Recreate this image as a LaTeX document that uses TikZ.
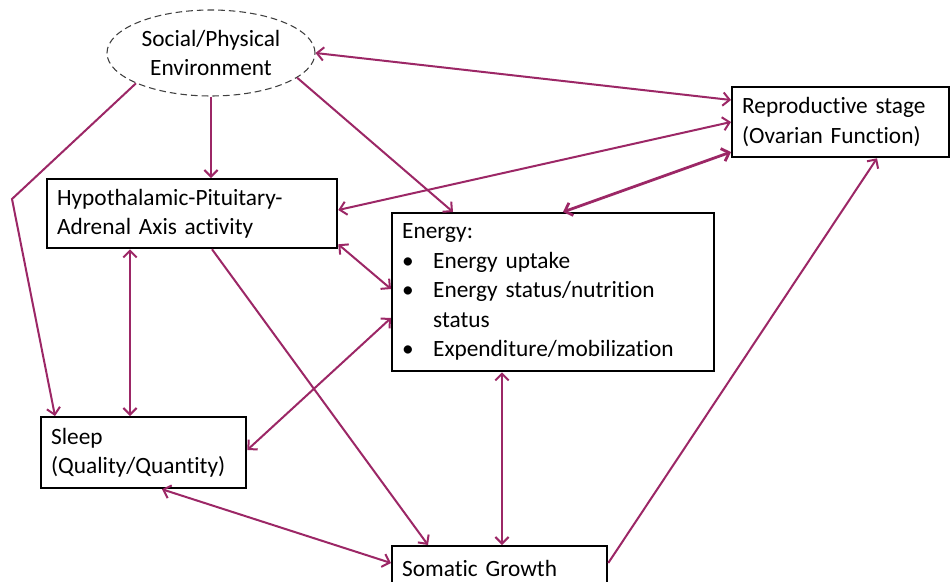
\documentclass[tikz,border=0pt]{standalone}
\usepackage{fontspec}
\setmainfont[Ligatures={NoCommon,NoRare}]{Carlito}
\usetikzlibrary{arrows.meta,calc,shapes.geometric}
\definecolor{arrowc}{HTML}{9C2766}
\newcommand{\bull}{\makebox[23.25pt][l]{\textbullet}}
\begin{document}
\begin{tikzpicture}[x=0.75pt,y=-0.75pt,
  every node/.style={font=\fontsize{17.5}{22.1}\selectfont},
  boxnode/.style={draw=black,line width=1.7pt,rectangle,anchor=north west,inner xsep=7.5pt,inner ysep=0pt,align=left},
  conn/.style={draw=arrowc,line width=1.5pt,arrows={Straight Barb[length=5pt,width=10pt]-Straight Barb[length=5pt,width=10pt]}},
  oneway/.style={draw=arrowc,line width=1.5pt,-{Straight Barb[length=5pt,width=10pt]}}]
\clip (0,0) rectangle (950,582);
\fill[white] (0,0) rectangle (950,582);
\node[ellipse,draw=black!75,dashed,dash pattern=on 5pt off 3pt,line width=0.8pt,inner sep=0pt,minimum width=156pt,minimum height=64.5pt,align=center] (env) at (211,53) {\raisebox{-3pt}{Social/Physical}\\\raisebox{-3pt}{Environment}};
\node[boxnode,text width=147.75pt,minimum height=52.5pt] (repro) at (731,86) {Reproductive stage\\(Ovarian Function)};
\node[boxnode,text width=202.5pt,minimum height=51.75pt] (hpa) at (46,178) {Hypothalamic-Pituitary-\\Adrenal Axis activity};
\node[boxnode,text width=226.5pt,minimum height=118.5pt] (energy) at (391,212) {Energy:\\\bull Energy uptake\\\bull Energy status/nutrition\\\hspace*{23.25pt}status\\\bull Expenditure/mobilization};
\node[boxnode,text width=138.75pt,minimum height=53.25pt] (sleep) at (40,416) {Sleep\\(Quality/Quantity)};
\node[boxnode,text width=146.25pt,minimum height=33pt] (somatic) at (391,545) {Somatic Growth};
\coordinate (bend) at (12,199);
% connectors
\draw[conn] (env.east) -- ($(repro.north west)+(0,14)$);
\draw[oneway] (env.south) -- (env.south |- hpa.north);
\draw[oneway] (env.-16) -- ($(energy.north west)+(62,0)$);
\draw[oneway] (env.-158) -- (bend) -- ($(sleep.north west)+(15,0)$);
\draw[conn] ($(repro.north west)+(0,36)$) -- ($(hpa.north east)+(0,32)$);
\draw[conn,line width=2.1pt] ($(repro.north west)+(0,66)$) -- ($(energy.north west)+(172,0)$);
\draw[oneway] ($(somatic.north east)+(0,18)$) -- ($(repro.south west)+(146,0)$);
\draw[conn] ($(hpa.south east)+(0,-5)$) -- ($(energy.north west)+(0,77)$);
\draw[conn] ($(hpa.south west)+(84,0)$) -- ($(sleep.north west)+(90,0)$);
\draw[oneway] ($(hpa.south west)+(166,0)$) -- ($(somatic.north west)+(37,0)$);
\draw[conn] ($(energy.north west)+(0,106)$) -- ($(sleep.north east)+(0,34)$);
\draw[conn] ($(energy.south west)+(111,0)$) -- ($(somatic.north west)+(111,0)$);
\draw[conn] ($(sleep.south west)+(122,0)$) -- ($(somatic.north west)+(0,18)$);
\end{tikzpicture}
\end{document}
